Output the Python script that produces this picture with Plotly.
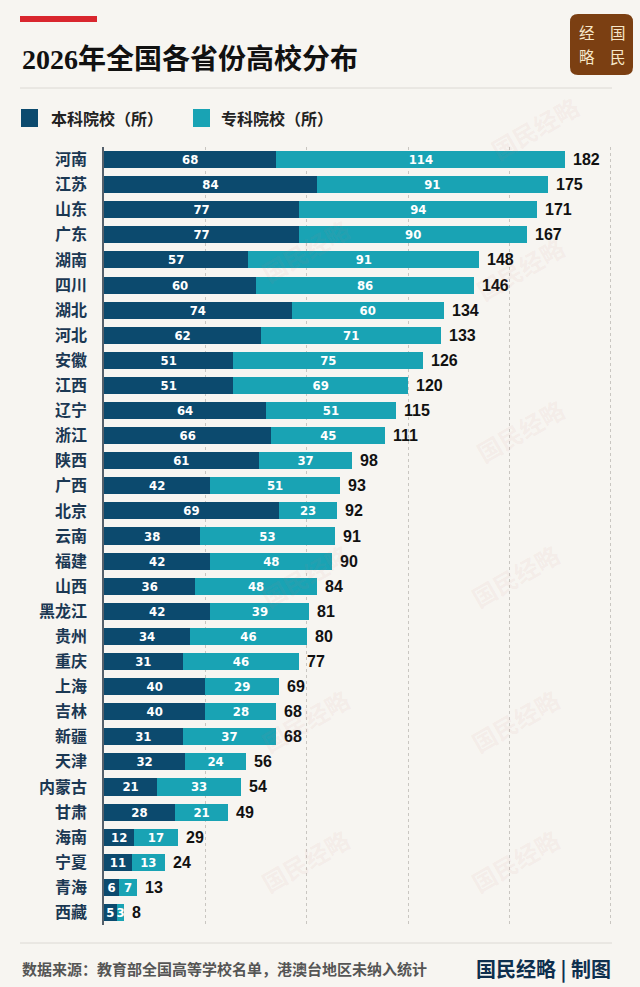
import plotly.graph_objects as go

provinces = ["河南", "江苏", "山东", "广东", "湖南", "四川", "湖北", "河北", "安徽", "江西",
             "辽宁", "浙江", "陕西", "广西", "北京", "云南", "福建", "山西", "黑龙江", "贵州",
             "重庆", "上海", "吉林", "新疆", "天津", "内蒙古", "甘肃", "海南", "宁夏", "青海", "西藏"]
undergrad = [68, 84, 77, 77, 57, 60, 74, 62, 51, 51, 64, 66, 61, 42, 69, 38, 42, 36, 42, 34,
             31, 40, 40, 31, 32, 21, 28, 12, 11, 6, 5]
vocational = [114, 91, 94, 90, 91, 86, 60, 71, 75, 69, 51, 45, 37, 51, 23, 53, 48, 48, 39, 46,
              46, 29, 28, 37, 24, 33, 21, 17, 13, 7, 3]
totals = [182, 175, 171, 167, 148, 146, 134, 133, 126, 120, 115, 111, 98, 93, 92, 91, 90, 84, 81, 80,
          77, 69, 68, 68, 56, 54, 49, 29, 24, 13, 8]

W, H = 640, 987
L, R, T, B = 104, 612, 147, 925
BG = "#f7f5f1"
NAVY = "#0c4a6e"
TEAL = "#19a3b4"
CJK = "Noto Sans CJK SC"
NARROW = "Liberation Sans Narrow, DejaVu Sans Condensed, Noto Sans CJK SC"


def px(x):
    return (x - L) / (R - L)


def py(y):
    return (B - y) / (B - T)


fig = go.Figure()
for name, vals, color in [("本科院校（所）", undergrad, NAVY), ("专科院校（所）", vocational, TEAL)]:
    fig.add_trace(go.Bar(
        y=provinces, x=vals, name=name, orientation="h",
        marker=dict(color=color, line=dict(width=0)),
        text=vals, textposition="inside", insidetextanchor="middle",
        constraintext="none", textangle=0,
        textfont=dict(color="white", size=13, family=NARROW, weight="bold"),
        showlegend=False, hoverinfo="x+y",
    ))

annotations = []
for prov, tot in zip(provinces, totals):
    annotations.append(dict(
        x=tot, y=prov, xref="x", yref="y", text=str(tot), showarrow=False,
        xanchor="left", xshift=6,
        font=dict(size=16, color="#111", family="Liberation Sans, Arial", weight="bold"),
    ))

# watermarks
for wx, wy in [(535, 128), (520, 268), (305, 250), (520, 430), (515, 575), (305, 575),
               (515, 720), (305, 720), (305, 860), (515, 860)]:
    annotations.append(dict(
        x=px(wx), y=py(wy), xref="paper", yref="paper", text="国民经略", showarrow=False,
        xanchor="center", yanchor="middle", textangle=-30,
        font=dict(size=24, color="rgba(214,120,120,0.08)", family=CJK, weight="bold"),
    ))


def note(x, y, text, size, color, xanchor="center", weight="normal", family=CJK):
    return dict(x=px(x), y=py(y), xref="paper", yref="paper", text=text, showarrow=False,
                xanchor=xanchor, yanchor="middle",
                font=dict(size=size, color=color, family=family, weight=weight))


annotations += [
    note(20, 60, "2026年全国各省份高校分布", 28, "#111", "left", "bold", "Liberation Serif, " + CJK),
    note(49, 118, "本科院校（所）", 16, "#222", "left", "bold"),
    note(219, 118, "专科院校（所）", 16, "#222", "left", "bold"),
    note(602, 32, "经　国", 15.5, "#f6e7c9"),
    note(602, 56, "略　民", 15.5, "#f6e7c9"),
    note(20, 968, "数据来源：教育部全国高等学校名单，港澳台地区未纳入统计", 15, "#555", "left", "bold"),
    note(613, 968, "国民经略 | 制图", 20, "#0e2f4e", "right", "bold"),
]

# logo box with rounded corners
x0, x1, y0, y1, r = px(570), px(633), py(14), py(75), 8
rx, ry = r / (R - L), r / (B - T)
logo_path = (f"M {x0 + rx},{y0} L {x1 - rx},{y0} Q {x1},{y0} {x1},{y0 - ry} "
             f"L {x1},{y1 + ry} Q {x1},{y1} {x1 - rx},{y1} L {x0 + rx},{y1} "
             f"Q {x0},{y1} {x0},{y1 + ry} L {x0},{y0 - ry} Q {x0},{y0} {x0 + rx},{y0} Z")

shapes = [
    dict(type="rect", xref="paper", yref="paper", x0=px(20), x1=px(97), y0=py(16), y1=py(22),
         fillcolor="#d9262e", line=dict(width=0)),
    dict(type="path", xref="paper", yref="paper", path=logo_path,
         fillcolor="#7b3f12", line=dict(width=0)),
    dict(type="line", xref="paper", yref="paper", x0=px(20), x1=px(612), y0=py(88), y1=py(88),
         line=dict(color="#dcd9d4", width=1)),
    dict(type="rect", xref="paper", yref="paper", x0=px(21), x1=px(38), y0=py(109), y1=py(127),
         fillcolor=NAVY, line=dict(width=0)),
    dict(type="rect", xref="paper", yref="paper", x0=px(193), x1=px(210), y0=py(109), y1=py(127),
         fillcolor=TEAL, line=dict(width=0)),
    dict(type="line", xref="paper", yref="paper", x0=px(20), x1=px(612), y0=py(943), y1=py(943),
         line=dict(color="#dcd9d4", width=1)),
]

fig.update_layout(
    width=W, height=H, barmode="stack", bargap=0.32,
    margin=dict(l=L, r=W - R, t=T, b=H - B, pad=0),
    paper_bgcolor=BG, plot_bgcolor=BG,
    annotations=annotations, shapes=shapes,
)
fig.update_xaxes(range=[0, 200.4], dtick=40, showticklabels=False, showgrid=True,
                 gridcolor="#c9c6c1", griddash="dot", gridwidth=1, zeroline=False,
                 fixedrange=True)
fig.update_yaxes(autorange="reversed", showline=True, linecolor="#55606b", linewidth=1.5,
                 ticks="outside", ticklen=12, tickcolor=BG,
                 tickfont=dict(size=16, color="#1b3853", family=CJK, weight="bold"),
                 fixedrange=True)

# page body has a default margin; drop it so the figure sits at the window's corner
fig.write_html("out.html", config={"displayModeBar": False},
               post_script="document.body.style.margin='0';document.body.style.overflow='hidden';")
